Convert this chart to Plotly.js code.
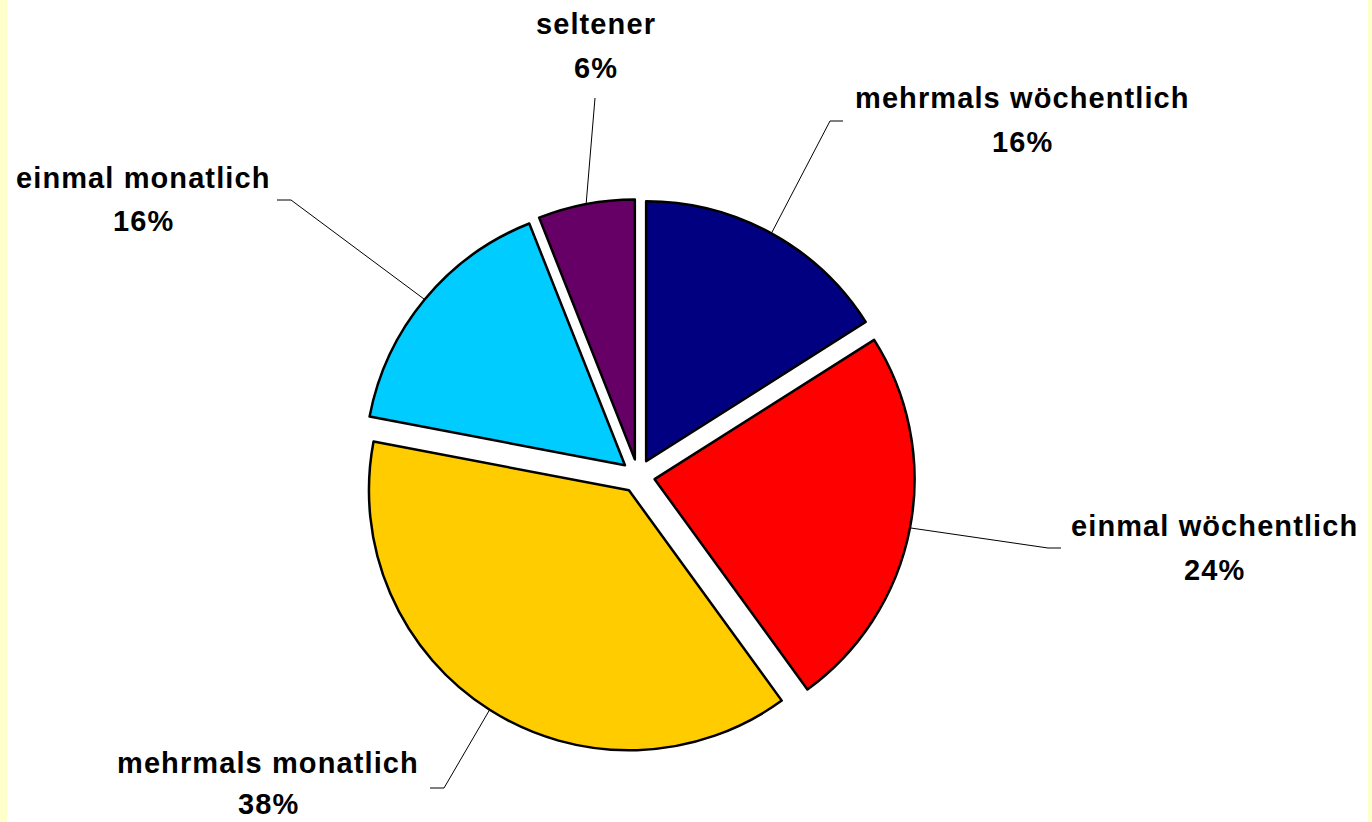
<!DOCTYPE html>
<html><head><meta charset="utf-8">
<script src="https://cdn.plot.ly/plotly-3.0.1.min.js"></script>
<style>
html,body{margin:0;padding:0;background:#fff;}
#chart{width:1372px;height:822px;}
.annotation-text{letter-spacing:1.1px;}
</style></head><body><div id="chart"></div>
<script>
// ---- data ----
const categories = ["mehrmals wöchentlich", "einmal wöchentlich", "mehrmals monatlich", "einmal monatlich", "seltener"];
const shares = [16, 24, 38, 16, 6];
const percentLabels = ["16%", "24%", "38%", "16%", "6%"];
const sliceColors = ["#000080", "#FF0000", "#FFCC00", "#00CCFF", "#660066"];

// ---- layout geometry (pixels) ----
const W = 1372, H = 822;
const CX = 638, CY = 476, R = 260, PULL = 0.065;
const FS = 29;
const labelPos = [
  {x: 1022, b1: 107, b2: 151, leader: [[830, 121], [843, 121]]},
  {x: 1214, b1: 535, b2: 579, leader: [[1048, 548], [1061, 548]]},
  {x: 268,  b1: 772, b2: 813, leader: [[444, 788], [430, 788]]},
  {x: 143,  b1: 187, b2: 230, leader: [[291, 200], [277, 200]]},
  {x: 596,  b1: 33,  b2: 77,  leader: [[595, 98]]}
];

const px = x => x / W;
const py = y => 1 - y / H;
const outer = R * (1 + PULL);

const total = shares.reduce((a, b) => a + b, 0);
let cum = 0;
const shapes = [];
const annotations = [];
shares.forEach((v, i) => {
  const theta = (cum + v / 2) / total * 2 * Math.PI;
  cum += v;
  const sx = CX + outer * Math.sin(theta);
  const sy = CY - outer * Math.cos(theta);
  const pts = [[sx, sy]].concat(labelPos[i].leader);
  const path = pts.map((p, k) => (k ? 'L' : 'M') + px(p[0]) + ',' + py(p[1])).join(' ');
  shapes.push({type: 'path', xref: 'paper', yref: 'paper', path: path,
    line: {color: '#000000', width: 1}});
  const font = {family: 'Liberation Sans, Arial, sans-serif', size: FS, color: '#000000', weight: 700};
  annotations.push({xref: 'paper', yref: 'paper', x: px(labelPos[i].x), y: py(labelPos[i].b1 - 0.32 * FS),
    xanchor: 'center', yanchor: 'middle', text: categories[i], showarrow: false, font: font});
  annotations.push({xref: 'paper', yref: 'paper', x: px(labelPos[i].x), y: py(labelPos[i].b2 - 0.32 * FS),
    xanchor: 'center', yanchor: 'middle', text: percentLabels[i], showarrow: false, font: font});
});

// side strips
shapes.push({type: 'rect', xref: 'paper', yref: 'paper', x0: 0, x1: px(7), y0: 0, y1: 1,
  fillcolor: '#FFFFCC', line: {width: 0}, layer: 'below'});
shapes.push({type: 'rect', xref: 'paper', yref: 'paper', x0: px(1368), x1: 1, y0: 0, y1: 1,
  fillcolor: '#FFFFCC', line: {width: 0}, layer: 'below'});

const trace = {
  type: 'pie',
  labels: categories,
  values: shares,
  sort: false,
  direction: 'clockwise',
  rotation: 0,
  pull: shares.map(() => PULL),
  marker: {colors: sliceColors, line: {color: '#000000', width: 2.5}},
  textinfo: 'none',
  hoverinfo: 'label+percent',
  domain: {
    x: [px(CX - outer), px(CX + outer)],
    y: [py(CY + outer), py(CY - outer)]
  },
  showlegend: false
};

const layout = {
  width: W, height: H,
  margin: {l: 0, r: 0, t: 0, b: 0},
  paper_bgcolor: '#FFFFFF',
  showlegend: false,
  shapes: shapes,
  annotations: annotations
};

Plotly.newPlot('chart', [trace], layout, {displayModeBar: false, staticPlot: true});
</script></body></html>
